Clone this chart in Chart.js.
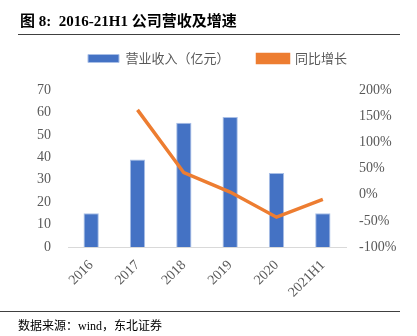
<!DOCTYPE html>
<html>
<head>
<meta charset="utf-8">
<script src="https://cdn.jsdelivr.net/npm/chart.js@4"></script>
<style>
body { margin: 0; background: #fff; }
#wrap { position: relative; width: 417px; height: 336px; }
#title { position: absolute; left: 20px; top: 9px; font: bold 15px "Liberation Serif", "Noto Sans CJK SC"; color: #000; }
#line1 { position: absolute; left: 18px; top: 34px; width: 382px; height: 0; border-top: 1.5px solid #404040; }
#line2 { position: absolute; left: 0px; top: 311px; width: 400px; height: 0; border-top: 1.5px solid #404040; }
#foot { position: absolute; left: 18px; top: 316px; font: 12px "Liberation Serif", "Noto Sans CJK SC"; color: #000; }
canvas { position: absolute; left: 0; top: 0; }
</style>
</head>
<body>
<div id="wrap">
<canvas id="c" width="417" height="336"></canvas>
<div id="title">图 8:&nbsp; 2016-21H1 公司营收及增速</div>
<div id="line1"></div>
<div id="line2"></div>
<div id="foot">数据来源：wind，东北证券</div>
</div>
<script>
var years = ['2016', '2017', '2018', '2019', '2020', '2021H1'];
var revenue = [15, 39, 55.4, 58, 33, 15];
var growth = [null, 1.62, 0.42, 0.05, -0.43, -0.09];

var tickFont = { family: '"Liberation Serif", serif', size: 14 };

// extra room under the legend, and nudge it right a bit
var legendSpace = {
    id: 'legendSpace',
    beforeInit: function (chart) {
        var lg = chart.legend;
        var fit = lg.fit;
        var draw = lg.draw;
        lg.fit = function () {
            fit.call(this);
            this.height += 15;
        };
        lg.draw = function () {
            var c = this.ctx;
            c.save();
            c.translate(9, 0);
            draw.call(this);
            c.restore();
        };
    }
};

var ctx = document.getElementById('c').getContext('2d');
var myChart = new Chart(ctx, {
    type: 'bar',
    data: {
        labels: years,
        datasets: [{
            label: '营业收入（亿元）',
            data: revenue,
            backgroundColor: '#4472C4',
            borderColor: '#A9BFE6',
            borderWidth: 1,
            barPercentage: 0.33,
            categoryPercentage: 1,
            yAxisID: 'y',
            order: 2
        }, {
            label: '同比增长',
            type: 'line',
            data: growth,
            borderColor: '#ED7D31',
            backgroundColor: '#ED7D31',
            borderWidth: 3.5,
            pointRadius: 0,
            tension: 0,
            yAxisID: 'y1',
            order: 1
        }]
    },
    options: {
        responsive: false,
        animation: false,
        layout: { padding: { top: 24, bottom: 29, left: 0, right: 0 } },
        plugins: {
            legend: {
                position: 'top',
                labels: {
                    boxWidth: 31,
                    boxHeight: 8,
                    padding: 28,
                    color: '#595959',
                    font: { family: '"Noto Sans CJK SC"', size: 13 },
                    sort: function (a, b) { return a.datasetIndex - b.datasetIndex; }
                }
            },
            tooltip: { enabled: false }
        },
        scales: {
            x: {
                grid: { display: false },
                border: { color: '#D9D9D9', width: 1 },
                ticks: { color: '#595959', font: tickFont, minRotation: 45, maxRotation: 45, padding: 2 },
                afterFit: function (s) { s.height = 60; }
            },
            y: {
                position: 'left',
                min: 0,
                max: 70,
                grid: { display: false },
                border: { display: false },
                ticks: { stepSize: 10, color: '#595959', font: tickFont, padding: 9 },
                afterFit: function (s) { s.width = 68; }
            },
            y1: {
                position: 'right',
                min: -1,
                max: 2,
                grid: { display: false },
                border: { display: false },
                ticks: {
                    stepSize: 0.5,
                    color: '#595959',
                    font: tickFont,
                    padding: 5,
                    callback: function (v) { return Math.round(v * 100) + '%'; }
                },
                afterFit: function (s) { s.width = 71; }
            }
        }
    },
    plugins: [legendSpace]
});
</script>
</body>
</html>
